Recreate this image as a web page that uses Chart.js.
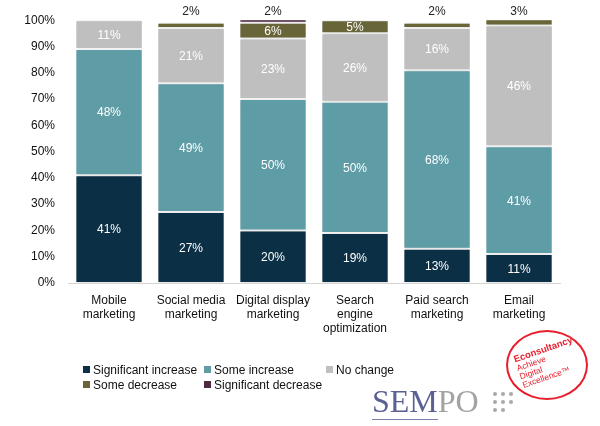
<!DOCTYPE html>
<html>
<head>
<meta charset="utf-8">
<script src="https://cdn.jsdelivr.net/npm/chart.js@4.4.1/dist/chart.umd.min.js"></script>
<style>
  html, body { margin: 0; padding: 0; background: #fff; }
  #wrap { position: relative; width: 600px; height: 426px; font-family: "Liberation Sans", Arial, sans-serif; }
  #c { position: absolute; left: 0; top: 0; }
  .leg { position: absolute; font-size: 12px; color: #111; white-space: nowrap; line-height: 14px; }
  .leg i { display: inline-block; width: 7px; height: 7px; margin-right: 3px; vertical-align: 1px; }
  #sempo { position: absolute; left: 372px; top: 386px; font-family: "Liberation Serif", "Times New Roman", serif; font-size: 32px; line-height: 30px; white-space: nowrap; }
  #sempo .a { color: #5b6094; border-bottom: 1px solid #7d81ad; }
  #sempo .b { color: #a3a3a3; }
  #dots { position: absolute; left: 493px; top: 392px; }
  #dots span { position: absolute; width: 4px; height: 4px; border-radius: 50%; background: #a8a8a8; }
  #stamp { position: absolute; left: 506px; top: 330px; width: 78px; height: 66px; border: 2px solid #e8202e; border-radius: 50%; color: #e8202e; }
  #stamp .t { position: absolute; left: 4px; top: 22px; transform: rotate(-19deg); transform-origin: left top; font-size: 8.5px; line-height: 9px; white-space: nowrap; }
  #stamp .t b { font-size: 9.5px; line-height: 11px; }
</style>
</head>
<body>
<div id="wrap">
  <canvas id="c" width="600" height="426"></canvas>
  <div class="leg" style="left:83px;top:363px"><i style="background:#0b2f45"></i>Significant increase</div>
  <div class="leg" style="left:204px;top:363px"><i style="background:#5e9ca6"></i>Some increase</div>
  <div class="leg" style="left:326px;top:363px"><i style="background:#bfbfbf"></i>No change</div>
  <div class="leg" style="left:83px;top:378px"><i style="background:#686539"></i>Some decrease</div>
  <div class="leg" style="left:204px;top:378px"><i style="background:#4d2a40"></i>Significant decrease</div>
  <div id="sempo"><span class="a">SEM</span><span class="b">PO</span></div>
  <div id="dots">
    <span style="left:0;top:0"></span><span style="left:8px;top:0"></span><span style="left:16px;top:0"></span>
    <span style="left:0;top:8px"></span><span style="left:8px;top:8px"></span><span style="left:16px;top:8px"></span>
    <span style="left:0;top:16px"></span><span style="left:8px;top:16px"></span>
  </div>
  <div id="stamp"><div class="t"><b>Econsultancy</b><br>Achieve<br>Digital<br>Excellence™</div></div>
</div>
<script>
const categories = [
  ['Mobile', 'marketing'],
  ['Social media', 'marketing'],
  ['Digital display', 'marketing'],
  ['Search', 'engine', 'optimization'],
  ['Paid search', 'marketing'],
  ['Email', 'marketing']
];
const significantIncrease = [41, 27, 20, 19, 13, 11];
const someIncrease        = [48, 49, 50, 50, 68, 41];
const noChange            = [11, 21, 23, 26, 16, 46];
const someDecrease        = [0, 2, 6, 5, 2, 3];
const significantDecrease = [0, 0, 2, 0, 0, 0];
const yTicks = [0, 10, 20, 30, 40, 50, 60, 70, 80, 90, 100];

const seriesNames = ['Significant increase', 'Some increase', 'No change', 'Some decrease', 'Significant decrease'];
const seriesData = [significantIncrease, someIncrease, noChange, someDecrease, significantDecrease];
const seriesColors = ['#0b2f45', '#5e9ca6', '#bfbfbf', '#686539', '#4d2a40'];

const FONT = '"Liberation Sans", Arial, sans-serif';

const shadowPlugin = {
  id: 'shadow',
  beforeDatasetsDraw(chart) {
    const ctx = chart.ctx;
    ctx.save();
    ctx.shadowColor = 'rgba(0,0,0,0.22)';
    ctx.shadowBlur = 3;
    ctx.shadowOffsetX = 1;
    ctx.shadowOffsetY = 0;
  },
  afterDatasetsDraw(chart) {
    chart.ctx.restore();
  }
};

const labelPlugin = {
  id: 'valueLabels',
  afterDatasetsDraw(chart) {
    const ctx = chart.ctx;
    const area = chart.chartArea;
    ctx.save();
    ctx.font = '12px ' + FONT;
    ctx.textAlign = 'center';
    ctx.textBaseline = 'middle';
    chart.data.datasets.forEach((ds, i) => {
      const meta = chart.getDatasetMeta(i);
      meta.data.forEach((el, j) => {
        const v = ds.data[j];
        if (!v) return;
        if (v >= 4) {
          const top = Math.max(el.y, area.top);
          const y = (top + el.base) / 2;
          ctx.fillStyle = '#ffffff';
          ctx.fillText(v + '%', el.x, y + 1);
        } else {
          ctx.fillStyle = '#222222';
          ctx.fillText(v + '%', el.x, 12);
        }
      });
    });
    ctx.restore();
  }
};

new Chart(document.getElementById('c'), {
  type: 'bar',
  data: {
    labels: categories,
    datasets: seriesNames.map((n, i) => ({
      label: n,
      data: seriesData[i],
      backgroundColor: seriesColors[i],
      borderColor: '#ffffff',
      borderWidth: { top: 1, bottom: 1, left: 0, right: 0 },
      borderSkipped: false,
      barPercentage: 0.8,
      categoryPercentage: 1.0
    }))
  },
  options: {
    responsive: false,
    animation: false,
    layout: { padding: { left: 0, right: 40, top: 20, bottom: 83 } },
    plugins: { legend: { display: false }, tooltip: { enabled: false } },
    scales: {
      x: {
        stacked: true,
        grid: { display: false, drawTicks: false },
        border: { display: true, color: '#d4d4d4', width: 1 },
        ticks: { color: '#111', font: { family: FONT, size: 12 }, padding: 10, maxRotation: 0, autoSkip: false },
        afterFit(s) { s.height = 60; }
      },
      y: {
        stacked: true,
        min: 0, max: 100,
        afterBuildTicks(s) { s.ticks = yTicks.map(v => ({ value: v })); },
        grid: { display: false, drawTicks: false },
        border: { display: false },
        ticks: { color: '#111', font: { family: FONT, size: 12 }, padding: 13, callback: v => v + '%' },
        afterFit(s) { s.width = 68; }
      }
    }
  },
  plugins: [shadowPlugin, labelPlugin]
});
</script>
</body>
</html>
